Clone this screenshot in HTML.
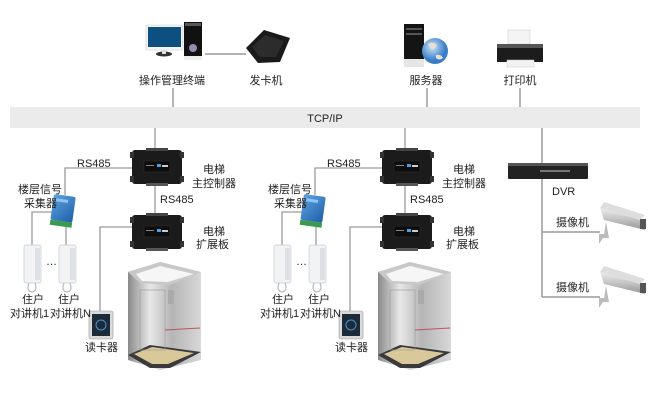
<!DOCTYPE html>
<html><head><meta charset="utf-8"><style>
html,body{margin:0;padding:0;background:#fff;width:649px;height:401px;overflow:hidden}
text{font-family:"Liberation Sans","Noto Sans CJK SC",sans-serif;font-size:11px;fill:#222}
</style></head><body>
<svg width="649" height="401" viewBox="0 0 649 401" xmlns="http://www.w3.org/2000/svg">
<defs>
<linearGradient id="steel" x1="0" y1="0" x2="1" y2="0">
<stop offset="0" stop-color="#8a8a8a"/><stop offset="0.3" stop-color="#e8e8e8"/><stop offset="0.6" stop-color="#b5b5b5"/><stop offset="1" stop-color="#d8d8d8"/></linearGradient>
<linearGradient id="blue" x1="0" y1="0" x2="1" y2="1"><stop offset="0" stop-color="#5fa3e0"/><stop offset="1" stop-color="#1e5fa8"/></linearGradient>
<radialGradient id="globe" cx="0.4" cy="0.35"><stop offset="0" stop-color="#cfe6fb"/><stop offset="1" stop-color="#3a7fc6"/></radialGradient>
<linearGradient id="cam" x1="0" y1="0" x2="0" y2="1"><stop offset="0" stop-color="#eee"/><stop offset="1" stop-color="#999"/></linearGradient>

<g id="ctrl">
<rect x="0" y="2" width="50" height="34" rx="3" fill="#1b1b1b"/>
<rect x="-2" y="4" width="4" height="6" fill="#333"/><rect x="48" y="4" width="4" height="6" fill="#333"/>
<rect x="-2" y="28" width="4" height="6" fill="#333"/><rect x="48" y="28" width="4" height="6" fill="#333"/>
<rect x="14" y="0" width="22" height="3" fill="#444"/><rect x="14" y="35" width="22" height="3" fill="#555"/>
<rect x="12" y="13" width="26" height="11" fill="#0d0d0d" stroke="#333" stroke-width="0.5"/>
<rect x="14" y="17" width="8" height="1" fill="#888"/><rect x="25" y="16" width="4" height="3" fill="#4aa0e0"/><rect x="30" y="17" width="6" height="2" fill="#ccc"/>
</g>

<g id="intercom">
<rect x="0" y="0" width="17" height="38" rx="2" fill="#f1f3f5" stroke="#c8ccd0" stroke-width="0.7"/>
<rect x="11" y="3" width="5" height="32" fill="#dde1e5"/>
<path d="M5 38 q-3 8 3 9 q6 -1 3 -9" fill="none" stroke="#b8bcc0" stroke-width="1.2"/>
</g>

<g id="block">
<!-- lines -->
<g stroke="#9a9a9a" stroke-width="1.3" fill="none">
<line x1="155" y1="128" x2="155" y2="150"/>
<polyline points="132,168 65,168 65,195"/>
<line x1="155" y1="186" x2="155" y2="214"/>
<polyline points="132,227 100,227 100,312"/>
<polyline points="55,212 32,212 32,245"/>
<line x1="66" y1="225" x2="66" y2="245"/>
</g>
<use href="#ctrl" x="132" y="148"/>
<use href="#ctrl" x="132" y="213"/>
<!-- collector -->
<g transform="translate(54,194) rotate(8)">
<rect x="0" y="0" width="22" height="26" rx="2" fill="url(#blue)"/>
<rect x="0" y="26" width="22" height="5" fill="#3a9a50"/>
<rect x="3" y="4" width="12" height="3" fill="#8cc4f0"/>
</g>
<use href="#intercom" x="24" y="245"/>
<use href="#intercom" x="59" y="245"/>
<text x="46" y="265" font-size="9">…</text>
<!-- card reader -->
<rect x="89" y="311" width="24" height="28" rx="2" fill="#d8dadc" stroke="#999" stroke-width="0.6"/>
<rect x="92" y="314" width="18" height="22" fill="#1d2a38"/>
<circle cx="101" cy="325" r="5" fill="none" stroke="#4a8fd0" stroke-width="1"/>
<!-- elevator -->
<polygon points="128,272 160,262 201,272 201,360 160,370 128,360" fill="url(#steel)"/>
<polygon points="128,272 160,262 201,272 170,285 140,283" fill="#c8c8c8"/>
<polygon points="136,274 160,266 194,274 168,282 142,281" fill="#f6f6f6"/>
<polygon points="128,355 150,345 201,352 170,368 150,368" fill="#3a3a3a"/>
<polygon points="134,354 152,347 194,353 168,364 152,364" fill="#d9c89a"/>
<rect x="140" y="290" width="25" height="60" fill="none" stroke="#999" stroke-width="0.6"/>
<rect x="168" y="290" width="6" height="14" fill="#aaa"/>
<line x1="165" y1="330" x2="200" y2="328" stroke="#b55" stroke-width="1"/>
<!-- labels -->
<text x="77" y="167">RS485</text>
<text x="160" y="203">RS485</text>
<text x="203" y="173">电梯</text>
<text x="192" y="187">主控制器</text>
<text x="203" y="235">电梯</text>
<text x="196" y="248">扩展板</text>
<text x="18" y="193">楼层信号</text>
<text x="24" y="207">采集器</text>
<text x="22" y="303">住户</text>
<text x="10" y="317">对讲机1</text>
<text x="58" y="303">住户</text>
<text x="50" y="317">对讲机N</text>
<text x="85" y="351">读卡器</text>
</g>
</defs>

<!-- top connectors -->
<g stroke="#9a9a9a" stroke-width="1.5">
<line x1="205" y1="54" x2="246" y2="54"/>
<line x1="173" y1="88" x2="173" y2="107"/>
<line x1="427" y1="88" x2="427" y2="107"/>
<line x1="520" y1="88" x2="520" y2="107"/>
<line x1="542" y1="128" x2="542" y2="297"/>
<line x1="542" y1="232" x2="600" y2="232"/>
<line x1="542" y1="297" x2="600" y2="297"/>
</g>

<!-- TCP bar -->
<rect x="10" y="107" width="630" height="21" fill="#ebebeb"/>
<text x="325" y="122" text-anchor="middle" font-size="13" fill="#333">TCP/IP</text>

<!-- computer -->
<rect x="146" y="25" width="37" height="25" rx="1" fill="#f4f4f4" stroke="#ccc" stroke-width="0.6"/>
<rect x="148" y="27" width="33" height="20" fill="#0d4f80"/>
<ellipse cx="164" cy="54" rx="8" ry="2.5" fill="#333"/>
<rect x="162" y="50" width="4" height="4" fill="#ddd"/>
<rect x="184" y="22" width="18" height="38" fill="#111"/>
<rect x="185" y="23" width="16" height="3" fill="#fff" opacity="0.3"/>
<circle cx="193" cy="48" r="4" fill="#9a8ab0"/>
<rect x="184" y="56" width="18" height="4" fill="#eee"/>
<!-- card issuer -->
<polygon points="246,48 264,30 290,38 280,62 258,63" fill="#1a1a1a"/>
<polygon points="252,47 265,35 284,41 276,57 260,57" fill="#2c2c2c"/>
<text x="172" y="84" text-anchor="middle">操作管理终端</text>
<text x="266" y="84" text-anchor="middle">发卡机</text>

<!-- server -->
<rect x="404" y="24" width="20" height="43" fill="#141414"/>
<rect x="406" y="28" width="16" height="2" fill="#555"/><rect x="406" y="33" width="16" height="2" fill="#555"/>
<rect x="404" y="59" width="20" height="8" fill="#e6e6e6"/>
<circle cx="435" cy="51" r="13" fill="url(#globe)"/>
<path d="M428 44 q5 -3 9 1 q-2 5 -6 4 z M436 55 q5 -1 7 3 q-4 3 -7 0z" fill="#e8e2d6"/>
<text x="426" y="84" text-anchor="middle">服务器</text>

<!-- printer -->
<rect x="508" y="30" width="22" height="14" fill="#f4f4f4" stroke="#ccc" stroke-width="0.6"/>
<path d="M497 44 h46 v18 h-46 z" fill="#1c1c1c"/>
<rect x="497" y="44" width="46" height="4" fill="#555"/>
<rect x="507" y="60" width="27" height="7" fill="#f2f2f2" stroke="#ccc" stroke-width="0.5"/>
<text x="520" y="84" text-anchor="middle">打印机</text>

<!-- elevator blocks -->
<use href="#block" x="0" y="0"/>
<use href="#block" x="250" y="0"/>

<!-- DVR -->
<rect x="508" y="163" width="80" height="16" rx="1" fill="#222"/>
<rect x="508" y="163" width="80" height="3" fill="#555"/>
<rect x="540" y="170" width="30" height="2" fill="#777"/>
<text x="552" y="195" font-size="12">DVR</text>

<!-- cameras -->
<g id="camera">
<polygon points="600,208 640,220 645,230 604,220" fill="url(#cam)"/>
<polygon points="600,208 604,202 645,215 640,220" fill="#ddd"/>
<rect x="640" y="219" width="6" height="10" fill="#555"/>
<path d="M606 222 l-2 12 h-5 v10 l4 -6 h6" fill="#bbb"/>
</g>
<use href="#camera" x="0" y="64"/>
<text x="556" y="226">摄像机</text>
<text x="556" y="291">摄像机</text>
</svg>
</body></html>
